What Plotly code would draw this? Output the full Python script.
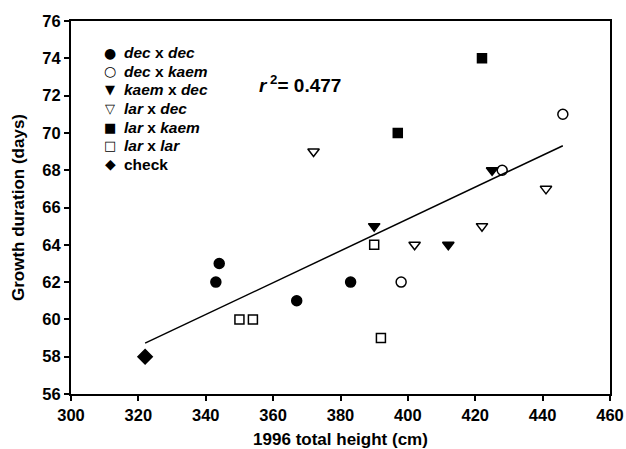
import numpy as np
import plotly.graph_objects as go

# Data
legend_names = ["<i>dec</i> x <i>dec</i>", "<i>dec</i> x <i>kaem</i>", "<i>kaem</i> x <i>dec</i>",
                "<i>lar</i> x <i>dec</i>", "<i>lar</i> x <i>kaem</i>", "<i>lar</i> x <i>lar</i>", "check"]
legend_glyphs = ["●", "○", "▼", "▽", "■", "□", "◆"]
height_dec_dec = [343, 344, 367, 383]
days_dec_dec = [62, 63, 61, 62]
height_dec_kaem = [398, 428, 446]
days_dec_kaem = [62, 68, 71]
height_kaem_dec = [390, 412, 425]
days_kaem_dec = [65, 64, 68]
height_lar_dec = [372, 402, 422, 441]
days_lar_dec = [69, 64, 65, 67]
height_lar_kaem = [397, 422]
days_lar_kaem = [70, 74]
height_lar_lar = [350, 354, 390, 392]
days_lar_lar = [60, 60, 64, 59]
height_check = [322]
days_check = [58]

xs = [height_dec_dec, height_dec_kaem, height_kaem_dec, height_lar_dec, height_lar_kaem, height_lar_lar, height_check]
ys = [days_dec_dec, days_dec_kaem, days_kaem_dec, days_lar_dec, days_lar_kaem, days_lar_lar, days_check]
symbols = ["circle", "circle-open", "triangle-down", "triangle-down-open", "square", "square-open", "diamond"]
sizes = [10, 10, 10, 10, 9, 9, 11]

x_ticks = list(range(300, 461, 20))
y_ticks = list(range(56, 77, 2))
r2_text = "0.477"

FONT = "Liberation Sans, Arial, Helvetica, sans-serif"
W, H = 626, 449
ML, MR, MT, MB = 71, 16, 21, 55
PW, PH = W - ML - MR, H - MT - MB

fig = go.Figure()

# regression line (least squares fit of all points)
all_x = np.concatenate([np.array(a, float) for a in xs])
all_y = np.concatenate([np.array(a, float) for a in ys])
slope, intercept = np.polyfit(all_x, all_y, 1)
lx = np.array([all_x.min(), all_x.max()])
fig.add_trace(go.Scatter(x=lx, y=slope * lx + intercept, mode="lines",
                         line=dict(color="black", width=1.5), showlegend=False, hoverinfo="skip"))

for name, x, y, sym, sz in zip(legend_names, xs, ys, symbols, sizes):
    fig.add_trace(go.Scatter(
        x=x, y=y, mode="markers", name=name, showlegend=False,
        marker=dict(symbol=sym, size=sz, color="black",
                    line=dict(color="black", width=1.5)),
    ))

# legend drawn as text (glyph + label); positions in figure pixels
def px_x(p):
    return (p - ML) / PW

def px_y(p):
    return 1 - (p - MT) / PH

row0, row_gap = 52.7, 18.6
glyph_sizes = [14, 14, 13, 13, 13, 13, 14]
for i, (g, name) in enumerate(zip(legend_glyphs, legend_names)):
    yc = px_y(row0 + i * row_gap)
    fig.add_annotation(x=px_x(110), y=yc, xref="paper", yref="paper", text=g,
                       showarrow=False, xanchor="center", yanchor="middle",
                       font=dict(family="DejaVu Sans", size=glyph_sizes[i], color="black"))
    fig.add_annotation(x=px_x(122), y=yc, xref="paper", yref="paper", text=name,
                       showarrow=False, xanchor="left", yanchor="middle",
                       font=dict(family=FONT, size=15.5, color="black", weight="bold"))

fig.add_annotation(x=px_x(300), y=px_y(84), xref="paper", yref="paper",
                   text="<i>r</i><sup> 2</sup>= " + r2_text, showarrow=False,
                   font=dict(family=FONT, size=19, color="black", weight="bold"),
                   xanchor="center", yanchor="middle")

axis_common = dict(showline=True, linecolor="black", linewidth=2, mirror=True,
                   ticks="outside", ticklen=5, tickwidth=2, tickcolor="black",
                   showgrid=False, zeroline=False, automargin=False,
                   tickfont=dict(family=FONT, size=16.5, color="black", weight="bold"))

fig.update_xaxes(range=[300, 460], tickvals=x_ticks,
                 title=dict(text="1996 total height (cm)", standoff=16,
                            font=dict(family=FONT, size=17, color="black", weight="bold")),
                 **axis_common)
fig.update_yaxes(range=[56, 76], tickvals=y_ticks,
                 title=dict(text="Growth duration (days)", standoff=13,
                            font=dict(family=FONT, size=17, color="black", weight="bold")),
                 **axis_common)

fig.update_layout(
    width=W, height=H,
    margin=dict(l=ML, r=MR, t=MT, b=MB),
    plot_bgcolor="white", paper_bgcolor="white",
    showlegend=False,
)

fig.write_html(
    "out.html",
    config={"displayModeBar": False},
    post_script="document.body.style.margin='0';document.documentElement.style.overflow='hidden';document.body.style.overflow='hidden';",
)
